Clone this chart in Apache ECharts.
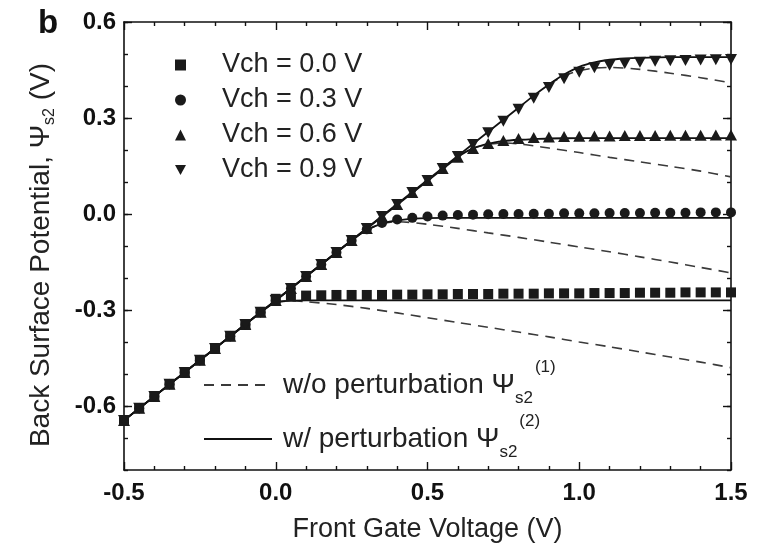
<!DOCTYPE html>
<html>
<head>
<meta charset="utf-8">
<script src="https://cdn.jsdelivr.net/npm/echarts@6/dist/echarts.min.js"></script>
<style>
  html, body { margin: 0; padding: 0; background: #fff; }
  #chart { width: 759px; height: 552px; }
</style>
</head>
<body>
<div id="chart"></div>
<script>
// ---------- data ----------
const gateV = [-0.5,-0.45,-0.4,-0.35,-0.3,-0.25,-0.2,-0.15,-0.1,-0.05,
  0,0.05,0.1,0.15,0.2,0.25,0.3,0.35,0.4,0.45,
  0.5,0.55,0.6,0.65,0.7,0.75,0.8,0.85,0.9,0.95,
  1.0,1.05,1.1,1.15,1.2,1.25,1.3,1.35,1.4,1.45,1.5];

const vch00 = [-0.645,-0.607,-0.57,-0.532,-0.495,-0.457,-0.42,-0.382,-0.345,-0.307,
  -0.265,-0.258,-0.255,-0.254,-0.253,-0.253,-0.253,-0.253,-0.252,-0.252,
  -0.251,-0.251,-0.25,-0.25,-0.25,-0.249,-0.249,-0.249,-0.248,-0.248,
  -0.248,-0.247,-0.247,-0.247,-0.246,-0.246,-0.246,-0.245,-0.245,-0.245,-0.245];

const vch03 = [-0.645,-0.607,-0.57,-0.532,-0.495,-0.457,-0.42,-0.382,-0.345,-0.307,
  -0.27,-0.233,-0.195,-0.158,-0.12,-0.083,-0.048,-0.028,-0.017,-0.012,
  -0.008,-0.005,-0.003,-0.002,-0.001,0,0,0.001,0.001,0.002,
  0.002,0.002,0.003,0.003,0.003,0.004,0.004,0.004,0.005,0.005,0.005];

const vch06 = [-0.645,-0.607,-0.57,-0.532,-0.495,-0.457,-0.42,-0.382,-0.345,-0.307,
  -0.27,-0.233,-0.195,-0.158,-0.12,-0.083,-0.045,-0.008,0.03,0.067,
  0.105,0.142,0.177,0.205,0.22,0.23,0.236,0.239,0.241,0.242,
  0.243,0.244,0.244,0.245,0.245,0.245,0.246,0.246,0.246,0.247,0.247];

const vch09 = [-0.645,-0.607,-0.57,-0.532,-0.495,-0.457,-0.42,-0.382,-0.345,-0.307,
  -0.27,-0.233,-0.195,-0.158,-0.12,-0.083,-0.045,-0.008,0.03,0.067,
  0.105,0.142,0.18,0.217,0.254,0.29,0.327,0.362,0.395,0.423,
  0.443,0.457,0.465,0.47,0.474,0.477,0.479,0.48,0.481,0.482,0.483];

// solid lines: with perturbation
const solid00X = [-0.5,-0.05,0,0.05,0.1,1.5];
const solid00Y = [-0.645,-0.307,-0.276,-0.271,-0.27,-0.27];
const solid03X = [-0.5,0.25,0.3,0.35,0.4,0.45,0.5,0.6,1.5];
const solid03Y = [-0.645,-0.083,-0.05,-0.03,-0.02,-0.015,-0.013,-0.012,-0.012];
const solid06X = [-0.5,0.6,0.65,0.7,0.75,0.8,0.85,0.9,1.0,1.5];
const solid06Y = [-0.645,0.178,0.205,0.22,0.228,0.232,0.234,0.236,0.237,0.237];
const solid09X = [-0.5,0.8,0.85,0.9,0.95,1.0,1.05,1.1,1.15,1.2,1.3,1.5];
const solid09Y = [-0.645,0.332,0.37,0.405,0.436,0.46,0.474,0.482,0.486,0.488,0.49,0.49];

// dashed lines: without perturbation
const dash00X = [0,0.05,0.1,0.2,0.3,0.4,0.5,0.6,0.7,0.8,0.9,1.0,1.1,1.2,1.3,1.4,1.5];
const dash00Y = [-0.276,-0.271,-0.274,-0.283,-0.295,-0.309,-0.324,-0.339,-0.354,-0.369,-0.384,-0.4,-0.415,-0.431,-0.447,-0.463,-0.48];
const dash03X = [0.3,0.35,0.4,0.5,0.6,0.7,0.8,0.9,1.0,1.1,1.2,1.3,1.4,1.5];
const dash03Y = [-0.05,-0.03,-0.024,-0.032,-0.045,-0.059,-0.073,-0.088,-0.103,-0.118,-0.134,-0.15,-0.167,-0.184];
const dash06X = [0.65,0.7,0.75,0.8,0.85,0.9,1.0,1.1,1.2,1.3,1.4,1.5];
const dash06Y = [0.205,0.218,0.222,0.219,0.213,0.206,0.192,0.177,0.163,0.149,0.134,0.116];
const dash09X = [0.9,0.95,1.0,1.05,1.1,1.2,1.3,1.4,1.5];
const dash09Y = [0.405,0.432,0.448,0.456,0.458,0.452,0.44,0.426,0.41];

const xTickLabels = ['-0.5','0.0','0.5','1.0','1.5'];
const yTickLabels = [-0.6,-0.3,0.0,0.3,0.6];

const seriesNames = ['Vch = 0.0 V','Vch = 0.3 V','Vch = 0.6 V','Vch = 0.9 V'];
const lineNames = ['w/o perturbation','w/ perturbation'];

// ---------- chart ----------
const zip = (xs, ys) => xs.map((x, i) => [x, ys[i]]);
const FONT = 'Liberation Sans, Arial, Helvetica, sans-serif';
const INK = '#1a1a1a';
const DOWN_TRI = 'path://M0,0 L12,0 L6,11 Z';
const axisLine = { show: true, onZero: false, lineStyle: { color: '#111', width: 1.6 } };
const noLine = { show: false, onZero: false };
const tickLine = { color: '#111', width: 1.4 };

const chart = echarts.init(document.getElementById('chart'), null, { renderer: 'canvas' });

function scatter(name, data, symbol, size) {
  return {
    type: 'scatter', name: name, data: zip(gateV, data),
    symbol: symbol, symbolSize: size,
    itemStyle: { color: INK, opacity: 1 }, z: 5, silent: true
  };
}
function line(name, xs, ys, dashed) {
  return {
    type: 'line', name: name, data: zip(xs, ys),
    symbol: 'none', showSymbol: false, smooth: 0.25, silent: true,
    itemStyle: { color: 'rgba(0,0,0,0)', borderWidth: 0 },
    lineStyle: dashed ? { color: '#3a3a3a', width: 1.6, type: [10, 7] }
                      : { color: '#111', width: 1.8 },
    z: dashed ? 2 : 3
  };
}

const richSmall = (valign, pad) => ({
  fontFamily: FONT, fontSize: 17, color: '#222', lineHeight: 17,
  verticalAlign: valign, padding: pad
});

const option = {
  animation: false,
  backgroundColor: '#fff',
  textStyle: { fontFamily: FONT },
  title: {
    text: 'b', left: 33, top: 2,
    textStyle: { fontFamily: FONT, fontSize: 33, fontWeight: 'bold', color: '#111' }
  },
  grid: { left: 124, right: 28, top: 22, bottom: 82, containLabel: false },
  legend: [
    {
      data: seriesNames.map((n, i) => (i === 3 ? { name: n, icon: DOWN_TRI } : { name: n })),
      orient: 'vertical', left: 170, top: 45,
      itemWidth: 11, itemHeight: 11, itemGap: 5, selectedMode: false,
      textStyle: { fontFamily: FONT, fontSize: 27, color: '#222', lineHeight: 30, padding: [0, 0, 0, 31] }
    },
    {
      data: lineNames, orient: 'vertical', left: 198, top: 354,
      itemWidth: 68, itemHeight: 14, itemGap: 2, selectedMode: false,
      formatter: function (name) {
        return '{t|' + name + '} {psi|Ψ}{sub|s2}{sup|' + (name === lineNames[0] ? '(1)' : '(2)') + '}';
      },
      textStyle: {
        fontFamily: FONT, fontSize: 28, color: '#222', lineHeight: 52, padding: [0, 0, 0, 6],
        rich: {
          t: { fontFamily: FONT, fontSize: 28, color: '#222', lineHeight: 52, verticalAlign: 'middle' },
          psi: { fontFamily: FONT, fontSize: 28, color: '#222', lineHeight: 52, verticalAlign: 'middle' },
          sub: richSmall('bottom', [0, 0, 4, 0]),
          sup: richSmall('top', [0, 0, 0, 2])
        }
      }
    }
  ],
  xAxis: [
    {
      type: 'value', position: 'bottom', min: -0.5, max: 1.5, interval: 0.5,
      axisLine: axisLine,
      axisTick: { show: true, inside: true, length: 8, lineStyle: tickLine },
      minorTick: { show: true, splitNumber: 5, length: 4, lineStyle: tickLine },
      splitLine: { show: false }, minorSplitLine: { show: false },
      axisLabel: {
        margin: 11, fontFamily: FONT, fontSize: 24, fontWeight: 'bold', color: '#111',
        formatter: function (v) { return xTickLabels[Math.round((v + 0.5) * 2)]; }
      },
      name: 'Front Gate Voltage (V)', nameLocation: 'middle', nameGap: 46,
      nameTextStyle: { fontFamily: FONT, fontSize: 27, color: '#222' }
    },
    {
      type: 'value', position: 'top', min: -0.5, max: 1.5, interval: 0.5,
      axisLine: axisLine,
      axisTick: { show: true, inside: true, length: 8, lineStyle: tickLine },
      minorTick: { show: true, splitNumber: 5, length: 4, lineStyle: tickLine },
      splitLine: { show: false }, axisLabel: { show: false }
    }
  ],
  yAxis: [
    {
      type: 'value', position: 'left', offset: 0, min: -0.8, max: 0.6, interval: 0.1,
      axisLine: axisLine,
      axisTick: { show: true, inside: true, length: 4, lineStyle: tickLine },
      splitLine: { show: false },
      axisLabel: {
        margin: 8, fontFamily: FONT, fontSize: 24, fontWeight: 'bold', color: '#111',
        formatter: function (v) {
          const hit = yTickLabels.find(t => Math.abs(t - v) < 1e-6);
          return hit === undefined ? '' : hit.toFixed(1);
        }
      },
      name: 'Back Surface Potential, {psi|Ψ}{sub|s2} (V)', nameLocation: 'middle', nameGap: 66,
      nameTextStyle: {
        fontFamily: FONT, fontSize: 28, color: '#222', lineHeight: 34, padding: [0, 18, 0, 0],
        rich: {
          psi: { fontFamily: FONT, fontSize: 28, color: '#222', lineHeight: 34, verticalAlign: 'middle' },
          sub: { fontFamily: FONT, fontSize: 16, color: '#222', lineHeight: 34, verticalAlign: 'bottom' }
        }
      }
    },
    {
      type: 'value', position: 'left', offset: 0, min: -0.8, max: 0.6,
      axisLine: noLine,
      axisTick: { show: true, inside: true, length: 8, lineStyle: tickLine, customValues: yTickLabels },
      splitLine: { show: false }, axisLabel: { show: false }
    },
    {
      type: 'value', position: 'right', offset: 0, min: -0.8, max: 0.6, interval: 0.1,
      axisLine: axisLine,
      axisTick: { show: true, inside: true, length: 4, lineStyle: tickLine },
      splitLine: { show: false }, axisLabel: { show: false }
    },
    {
      type: 'value', position: 'right', offset: 0, min: -0.8, max: 0.6,
      axisLine: noLine,
      axisTick: { show: true, inside: true, length: 8, lineStyle: tickLine, customValues: yTickLabels },
      splitLine: { show: false }, axisLabel: { show: false }
    }
  ],
  series: [
    line(lineNames[0], dash00X, dash00Y, true),
    line(lineNames[0], dash03X, dash03Y, true),
    line(lineNames[0], dash06X, dash06Y, true),
    line(lineNames[0], dash09X, dash09Y, true),
    line(lineNames[1], solid00X, solid00Y, false),
    line(lineNames[1], solid03X, solid03Y, false),
    line(lineNames[1], solid06X, solid06Y, false),
    line(lineNames[1], solid09X, solid09Y, false),
    scatter(seriesNames[0], vch00, 'rect', 10),
    scatter(seriesNames[1], vch03, 'circle', 10),
    scatter(seriesNames[2], vch06, 'triangle', [12, 11]),
    scatter(seriesNames[3], vch09, DOWN_TRI, [12, 11])
  ]
};
chart.setOption(option);
</script>
</body>
</html>
